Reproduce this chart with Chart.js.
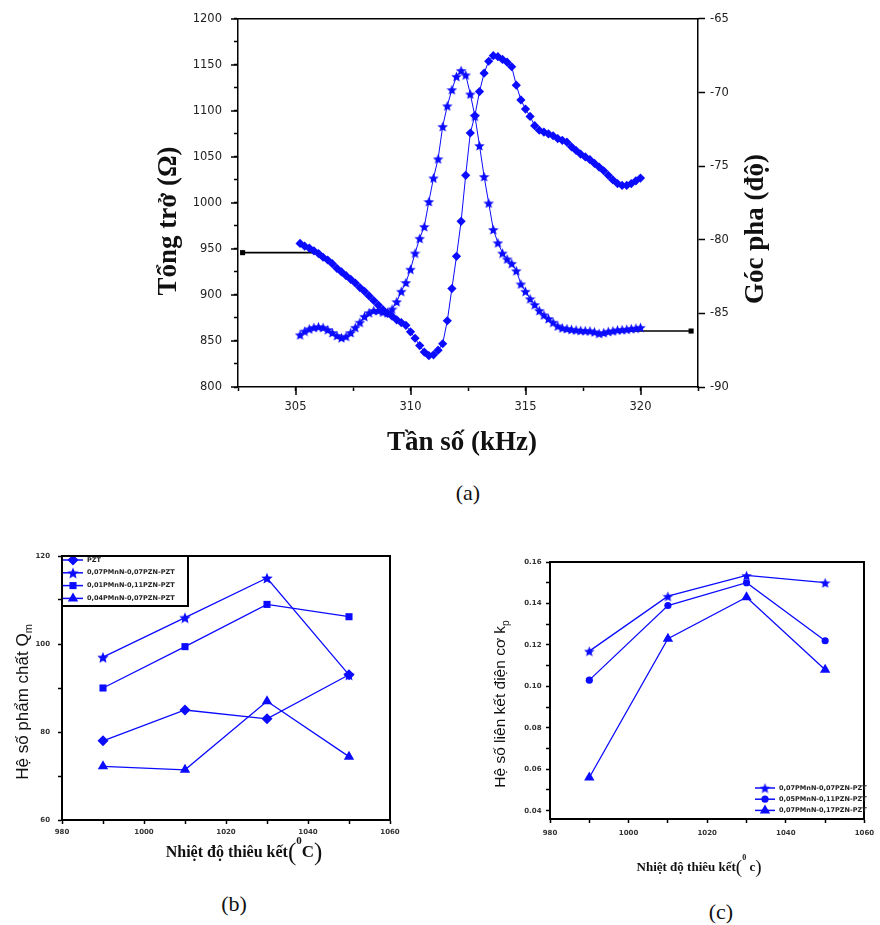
<!DOCTYPE html>
<html lang="vi">
<head>
<meta charset="utf-8">
<title>Tổng trở – Qm – kp</title>
<script src="https://cdn.jsdelivr.net/npm/chart.js@4.4.1/dist/chart.umd.min.js"></script>
<style>
  html, body { margin: 0; padding: 0; background: #fff; }
  body { position: relative; width: 880px; height: 925px; overflow: hidden; }
  .panel { position: absolute; display: block; }
  .caption {
    position: absolute; width: 60px; text-align: center;
    font-family: 'Liberation Serif', serif; font-size: 22px; line-height: 22px; color: #111;
  }
</style>
</head>
<body>
<canvas id="chartA" class="panel" width="880" height="470" style="left:0;top:0"></canvas>
<canvas id="chartB" class="panel" width="440" height="340" style="left:0;top:540px"></canvas>
<canvas id="chartC" class="panel" width="440" height="345" style="left:440px;top:540px"></canvas>
<div class="caption" style="left:438px;top:482px">(a)</div>
<div class="caption" style="left:204px;top:893px">(b)</div>
<div class="caption" style="left:691px;top:901px">(c)</div>

<script>
'use strict';

// ---------- (a) impedance & phase vs frequency ----------
const freqKHz = [
  305.2, 305.4, 305.6, 305.8, 306.0, 306.2, 306.4, 306.6, 306.8, 307.0,
  307.2, 307.4, 307.6, 307.8, 308.0, 308.2, 308.4, 308.6, 308.8, 309.0,
  309.2, 309.4, 309.6, 309.8, 310.0, 310.2, 310.4, 310.6, 310.8, 311.0,
  311.2, 311.4, 311.6, 311.8, 312.0, 312.2, 312.4, 312.6, 312.8, 313.0,
  313.2, 313.4, 313.6, 313.8, 314.0, 314.2, 314.4, 314.6, 314.8, 315.0,
  315.2, 315.4, 315.6, 315.8, 316.0, 316.2, 316.4, 316.6, 316.8, 317.0,
  317.2, 317.4, 317.6, 317.8, 318.0, 318.2, 318.4, 318.6, 318.8, 319.0,
  319.2, 319.4, 319.6, 319.8, 320.0
];
const impedanceOhm = [
  956, 953, 951, 948, 945, 941, 938, 934, 929, 925,
  921, 917, 913, 908, 904, 899, 894, 889, 884, 880,
  877, 873, 870, 867, 860, 853, 845, 838, 834, 835,
  840, 847, 872, 907, 942, 980, 1030, 1076, 1095, 1121,
  1141, 1154, 1160, 1159, 1156, 1153, 1148, 1128, 1112, 1102,
  1094, 1084, 1079, 1077, 1075, 1073, 1070, 1068, 1066, 1061,
  1057, 1053, 1050, 1047, 1043, 1039, 1035, 1030, 1025, 1021,
  1019, 1019, 1021, 1024, 1027
];
const phaseDeg = [
  -86.45, -86.2, -86.05, -85.95, -85.9, -85.95, -86.1, -86.3, -86.5, -86.65,
  -86.55, -86.3, -85.95, -85.6, -85.2, -84.95, -84.8, -84.8, -84.9, -84.95,
  -84.7, -84.2, -83.5, -82.9, -82.0, -80.9, -79.9, -79.1, -77.4, -75.8,
  -74.5, -72.3, -70.9, -69.8, -68.9, -68.5, -68.8, -70.1, -71.6, -73.6,
  -75.7, -77.5, -79.3, -80.2, -80.9, -81.3, -81.6, -82.1, -83.0, -83.5,
  -84.0, -84.4, -84.8, -85.1, -85.35, -85.6, -85.85, -85.98, -86.03, -86.08,
  -86.12, -86.15, -86.17, -86.18, -86.25, -86.35, -86.3, -86.22, -86.18, -86.12,
  -86.1, -86.07, -86.03, -86.0, -85.95
];
// pointer lines telling which axis each curve belongs to
const zPointerX = [305.9, 302.7];
const zPointerY = [946, 946];
const phPointerX = [318.7, 322.2];
const phPointerY = [-86.2, -86.2];

// ---------- (b), (c) vs sintering temperature ----------
const sinterTempC = [990, 1010, 1030, 1050];
const qmPZT = [78, 85, 83, 93];
const qmStar = [97, 106, 115, 93];
const qmSquare = [90, 99.4, 109, 106.2];
const qmTriangle = [72.2, 71.4, 87, 74.4];
const kpStar = [0.117, 0.1435, 0.1535, 0.150];
const kpCircle = [0.103, 0.139, 0.150, 0.122];
const kpTriangle = [0.056, 0.123, 0.143, 0.108];
const labelsB = ['PZT', '0,07PMnN-0,07PZN-PZT', '0,01PMnN-0,11PZN-PZT', '0,04PMnN-0,07PZN-PZT'];
const labelsC = ['0,07PMnN-0,07PZN-PZT', '0,05PMnN-0,11PZN-PZT', '0,07PMnN-0,17PZN-PZT'];

const BLUE = '#0b0bff';
const INK = '#222';

/** Filled five-point star drawn to a small canvas, usable as a pointStyle. */
function starImage(size, color) {
  const c = document.createElement('canvas');
  c.width = c.height = size;
  const g = c.getContext('2d');
  const cx = size / 2, cy = size / 2 + size * 0.06;
  const R = size / 2, r = R * 0.45;
  g.beginPath();
  for (let i = 0; i < 10; i++) {
    const rad = i % 2 ? r : R;
    const a = -Math.PI / 2 + i * Math.PI / 5;
    g.lineTo(cx + rad * Math.cos(a), cy + rad * Math.sin(a));
  }
  g.closePath();
  g.fillStyle = color;
  g.fill();
  return c;
}

const xy = (xs, ys) => xs.map((x, i) => ({ x, y: ys[i] }));
const isMult = (v, m) => Math.abs(v / m - Math.round(v / m)) < 1e-6;

// Longer tick marks at the labelled values (Chart.js has only one tick length)
const majorTicks = {
  id: 'majorTicks',
  afterDraw(chart, args, opts) {
    const { ctx, chartArea: area } = chart;
    (opts.axes || []).forEach(a => {
      const scale = chart.scales[a.id];
      ctx.save();
      ctx.strokeStyle = '#000';
      ctx.lineWidth = a.width || 1.5;
      scale.ticks.forEach(t => {
        if (!isMult(t.value, a.every)) return;
        const p = Math.round(scale.getPixelForValue(t.value));
        ctx.beginPath();
        if (scale.isHorizontal()) {
          ctx.moveTo(p, area.bottom);
          ctx.lineTo(p, area.bottom + a.length);
        } else {
          ctx.moveTo(area.left, p);
          ctx.lineTo(area.left - a.length, p);
        }
        ctx.stroke();
      });
      ctx.restore();
    });
  }
};

// Axis titles (rotated, with sub/superscript runs)
const figureText = {
  id: 'figureText',
  afterDraw(chart, args, opts) {
    const ctx = chart.ctx;
    (opts.items || []).forEach(item => {
      const runs = item.runs;
      ctx.save();
      ctx.translate(item.x, item.y);
      if (item.rotate) ctx.rotate(item.rotate * Math.PI / 180);
      ctx.fillStyle = item.color || '#111';
      ctx.textBaseline = 'alphabetic';
      let total = 0;
      runs.forEach(r => { ctx.font = r.font; total += ctx.measureText(r.text).width; });
      let x = -total / 2;
      runs.forEach(r => {
        ctx.font = r.font;
        ctx.fillText(r.text, x, r.dy || 0);
        x += ctx.measureText(r.text).width;
      });
      ctx.restore();
    });
  }
};

// Small legend drawn inside the plot
const insetLegend = {
  id: 'insetLegend',
  afterDraw(chart, args, opts) {
    if (opts.x === undefined) return;
    const ctx = chart.ctx;
    const box = opts.box;
    ctx.save();
    if (box) {
      ctx.beginPath();
      ctx.rect(box.x, box.y, box.w, box.h);
      ctx.fillStyle = '#fff';
      ctx.fill();
      ctx.clip();
    }
    chart.data.datasets.forEach((ds, i) => {
      const y = opts.y + i * opts.rowHeight;
      ctx.strokeStyle = ds.borderColor;
      ctx.lineWidth = 1.5;
      ctx.beginPath();
      ctx.moveTo(opts.x, y);
      ctx.lineTo(opts.x + opts.lineLength, y);
      ctx.stroke();
      ctx.fillStyle = ds.pointBackgroundColor;
      Chart.helpers.drawPoint(ctx, { pointStyle: ds.pointStyle, radius: ds.pointRadius, rotation: 0, borderWidth: 0 },
        opts.x + opts.lineLength / 2, y);
      ctx.fillStyle = INK;
      ctx.font = opts.font;
      ctx.textBaseline = 'middle';
      ctx.textAlign = 'left';
      ctx.fillText(ds.label, opts.x + opts.lineLength + 4, y);
    });
    ctx.restore();
    if (box) {
      ctx.save();
      ctx.strokeStyle = '#000';
      ctx.lineWidth = 2;
      ctx.strokeRect(box.x, box.y, box.w, box.h);
      ctx.restore();
    }
  }
};

/** Frame-only axis (top or right edge of the box). */
function frameAxis(position, width) {
  return {
    type: 'linear', position,
    afterFit: s => { if (position === 'top') s.height = 0; else s.width = 0; },
    grid: { display: false },
    ticks: { display: false },
    border: { color: '#000', width }
  };
}

function seriesStyle(pointStyle, radius) {
  return {
    borderColor: BLUE, borderWidth: 1.3, tension: 0,
    pointStyle, pointRadius: radius,
    pointBackgroundColor: BLUE, pointBorderColor: BLUE, pointBorderWidth: 0
  };
}

const baseOptions = {
  responsive: false,
  animation: false,
  events: []
};

// ---------------- (a) ----------------
const tickFontA = { family: 'DejaVu Sans', size: 11.5 };
const serifBold = 'bold 27px "Liberation Serif"';

new Chart(document.getElementById('chartA'), {
  type: 'line',
  data: {
    datasets: [
      {
        label: 'Tổng trở (Ω)', data: xy(freqKHz, impedanceOhm), xAxisID: 'x', yAxisID: 'yZ',
        borderColor: BLUE, borderWidth: 1, pointStyle: 'rectRot', pointRadius: 4.6,
        pointBackgroundColor: BLUE, pointBorderColor: BLUE, pointBorderWidth: 0
      },
      {
        label: 'Góc pha (độ)', data: xy(freqKHz, phaseDeg), xAxisID: 'x', yAxisID: 'yP',
        borderColor: BLUE, borderWidth: 1, pointStyle: starImage(11, BLUE), pointRadius: 5,
        pointBackgroundColor: BLUE, pointBorderColor: BLUE, pointBorderWidth: 0
      },
      {
        label: '', data: xy(zPointerX, zPointerY), xAxisID: 'x', yAxisID: 'yZ',
        borderColor: '#000', borderWidth: 1.6, pointStyle: 'rect', pointRadius: [0, 3.6],
        pointBackgroundColor: '#000', pointBorderWidth: 0
      },
      {
        label: '', data: xy(phPointerX, phPointerY), xAxisID: 'x', yAxisID: 'yP',
        borderColor: '#000', borderWidth: 1.6, pointStyle: 'rect', pointRadius: [0, 3.6],
        pointBackgroundColor: '#000', pointBorderWidth: 0
      }
    ]
  },
  options: {
    ...baseOptions,
    layout: { padding: { top: 17, left: 0, right: 0, bottom: 0 } },
    plugins: {
      legend: { display: false },
      tooltip: { enabled: false },
      majorTicks: { axes: [{ id: 'x', every: 5, length: 8 }, { id: 'yZ', every: 50, length: 7 }] },
      figureText: {
        items: [
          { runs: [{ text: 'Tổng trở (Ω)', font: serifBold }], x: 176, y: 221, rotate: -90 },
          { runs: [{ text: 'Góc pha (độ)', font: serifBold }], x: 763, y: 229, rotate: -90 },
          { runs: [{ text: 'Tần số (kHz)', font: serifBold }], x: 462, y: 450 }
        ]
      }
    },
    scales: {
      x: {
        type: 'linear', position: 'bottom', min: 302.5, max: 322.5,
        afterFit: s => { s.height = 83; },
        border: { color: '#000', width: 1.5 },
        grid: { drawOnChartArea: false, tickLength: 4, tickWidth: 1.5, tickColor: '#000' },
        ticks: {
          stepSize: 2.5, autoSkip: false, maxRotation: 0, padding: 9, color: INK, font: tickFontA,
          callback: v => (isMult(v, 5) ? String(v) : '')
        }
      },
      xTop: frameAxis('top', 1.5),
      yZ: {
        type: 'linear', position: 'left', min: 800, max: 1200,
        afterFit: s => { s.width = 238; },
        border: { color: '#000', width: 1.5 },
        grid: { drawOnChartArea: false, tickLength: 4, tickWidth: 1.5, tickColor: '#000' },
        ticks: {
          stepSize: 25, autoSkip: false, padding: 12, color: INK, font: tickFontA,
          callback: v => (isMult(v, 50) ? String(v) : '')
        }
      },
      yP: {
        type: 'linear', position: 'right', min: -90, max: -65,
        afterFit: s => { s.width = 182; },
        border: { color: '#000', width: 1.5 },
        grid: { drawOnChartArea: false, tickLength: 7, tickWidth: 1.5, tickColor: '#000' },
        ticks: { stepSize: 5, autoSkip: false, padding: 5, color: INK, font: tickFontA, callback: v => String(v) }
      }
    }
  },
  plugins: [majorTicks, figureText]
});

// ---------------- shared for (b) and (c) ----------------
const tickFontSmall = { family: 'DejaVu Sans', size: 7, weight: 'bold' };
const legendFont = 'bold 6.5px "DejaVu Sans"';

function tempAxis(height, padding) {
  return {
    type: 'linear', position: 'bottom', min: 980, max: 1060,
    afterFit: s => { s.height = height; },
    border: { color: '#000', width: 2 },
    grid: { drawOnChartArea: false, tickLength: 4, tickWidth: 1.5, tickColor: '#000' },
    ticks: {
      stepSize: 10, autoSkip: false, maxRotation: 0, padding, color: '#333', font: tickFontSmall,
      callback: v => (isMult(v, 20) ? String(v) : '')
    }
  };
}

// ---------------- (b) quality factor ----------------
new Chart(document.getElementById('chartB'), {
  type: 'line',
  data: {
    datasets: [
      { label: labelsB[0], data: xy(sinterTempC, qmPZT), ...seriesStyle('rectRot', 5.5) },
      { label: labelsB[1], data: xy(sinterTempC, qmStar), ...seriesStyle(starImage(12, BLUE), 6) },
      { label: labelsB[2], data: xy(sinterTempC, qmSquare), ...seriesStyle('rect', 5) },
      { label: labelsB[3], data: xy(sinterTempC, qmTriangle), ...seriesStyle('triangle', 6) }
    ]
  },
  options: {
    ...baseOptions,
    layout: { padding: { top: 16, left: 0, right: 50, bottom: 0 } },
    plugins: {
      legend: { display: false },
      tooltip: { enabled: false },
      insetLegend: { x: 63, y: 20, rowHeight: 12.8, lineLength: 20, font: legendFont, box: { x: 62, y: 16, w: 126, h: 50 } },
      figureText: {
        items: [
          {
            runs: [
              { text: 'Hệ số phẩm chất Q', font: '17px "Liberation Sans"' },
              { text: 'm', font: '11px "Liberation Sans"', dy: 4 }
            ],
            x: 28, y: 162, rotate: -90
          },
          {
            runs: [
              { text: 'Nhiệt độ thiêu kết', font: 'bold 16px "Liberation Serif"' },
              { text: '(', font: '25px "Liberation Serif"', dy: 3 },
              { text: '0', font: 'bold 11px "Liberation Serif"', dy: -13 },
              { text: 'C', font: 'bold 17px "Liberation Serif"' },
              { text: ')', font: '25px "Liberation Serif"', dy: 3 }
            ],
            x: 244, y: 317
          }
        ]
      }
    },
    scales: {
      x: tempAxis(60, 3.5),
      xTop: frameAxis('top', 2),
      y: {
        type: 'linear', position: 'left', min: 60, max: 120,
        afterFit: s => { s.width = 62; },
        border: { color: '#000', width: 2 },
        grid: { drawOnChartArea: false, tickLength: 4, tickWidth: 1.5, tickColor: '#000' },
        ticks: {
          stepSize: 10, autoSkip: false, padding: 8, color: '#333', font: tickFontSmall,
          callback: v => (isMult(v, 20) ? String(v) : '')
        }
      },
      yRight: frameAxis('right', 2)
    }
  },
  plugins: [insetLegend, figureText]
});

// ---------------- (c) coupling factor ----------------
new Chart(document.getElementById('chartC'), {
  type: 'line',
  data: {
    datasets: [
      { label: labelsC[0], data: xy(sinterTempC, kpStar), ...seriesStyle(starImage(11, BLUE), 5.5) },
      { label: labelsC[1], data: xy(sinterTempC, kpCircle), ...seriesStyle('circle', 3.6) },
      { label: labelsC[2], data: xy(sinterTempC, kpTriangle), ...seriesStyle('triangle', 6) }
    ]
  },
  options: {
    ...baseOptions,
    layout: { padding: { top: 22, left: 0, right: 10, bottom: 0 } },
    plugins: {
      legend: { display: false },
      tooltip: { enabled: false },
      insetLegend: { x: 315, y: 248, rowHeight: 11.2, lineLength: 20, font: legendFont },
      figureText: {
        items: [
          {
            runs: [
              { text: 'Hệ số liên kết điện cơ k', font: '15.5px "Liberation Sans"' },
              { text: 'p', font: '10px "Liberation Sans"', dy: 4 }
            ],
            x: 65, y: 164, rotate: -90
          },
          {
            runs: [
              { text: 'Nhiệt độ thiêu kết', font: 'bold 13px "Liberation Serif"' },
              { text: '(', font: '19px "Liberation Serif"', dy: 2 },
              { text: '0', font: 'bold 8px "Liberation Serif"', dy: -11 },
              { text: ' c', font: 'bold 13px "Liberation Serif"' },
              { text: ')', font: '19px "Liberation Serif"', dy: 2 }
            ],
            x: 259, y: 331
          }
        ]
      }
    },
    scales: {
      x: tempAxis(66, 5.8),
      xTop: frameAxis('top', 2),
      y: {
        type: 'linear', position: 'left', min: 0.036, max: 0.16,
        afterFit: s => { s.width = 110; },
        border: { color: '#000', width: 2 },
        grid: { drawOnChartArea: false, tickLength: 4, tickWidth: 1.5, tickColor: '#000' },
        ticks: {
          stepSize: 0.01, includeBounds: false, autoSkip: false, padding: 4.5, color: '#333', font: tickFontSmall,
          callback: v => (isMult(v, 0.02) ? v.toFixed(2) : '')
        }
      },
      yRight: frameAxis('right', 2)
    }
  },
  plugins: [insetLegend, figureText]
});
</script>
</body>
</html>
